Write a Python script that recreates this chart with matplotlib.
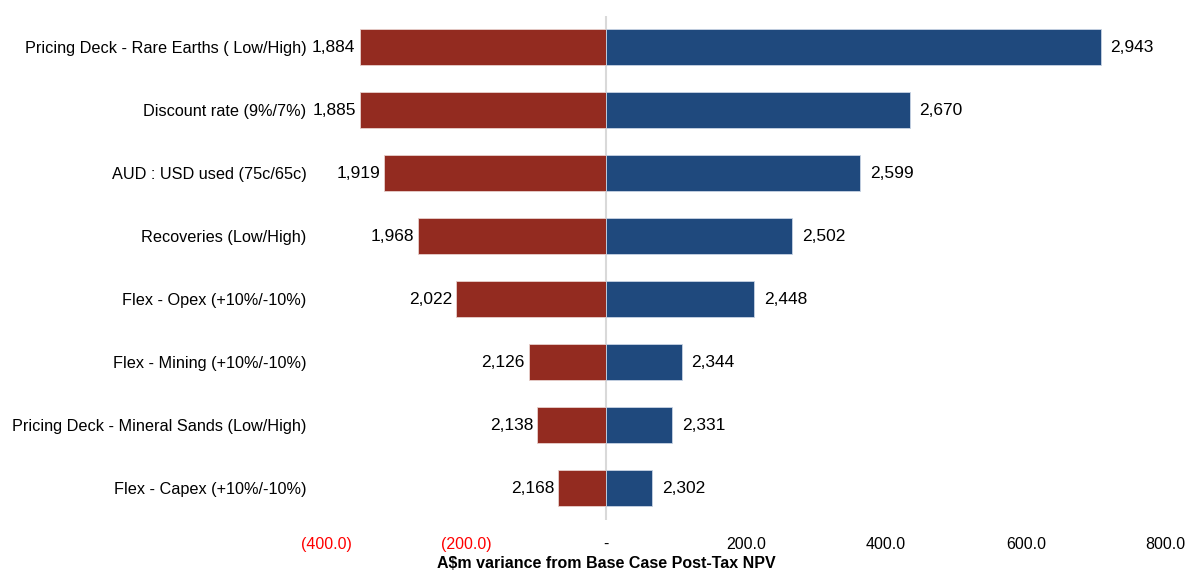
#!/usr/bin/env python3
"""Tornado chart: NPV sensitivity vs base case."""

import matplotlib
matplotlib.use("Agg")
import matplotlib.pyplot as plt
import numpy as np

plt.rcParams['font.family'] = ['Liberation Sans', 'DejaVu Sans']

# Data
categories = [
    "Pricing Deck - Rare Earths ( Low/High)",
    "Discount rate (9%/7%)",
    "AUD : USD used (75c/65c)",
    "Recoveries (Low/High)",
    "Flex - Opex (+10%/-10%)",
    "Flex - Mining (+10%/-10%)",
    "Pricing Deck - Mineral Sands (Low/High)",
    "Flex - Capex (+10%/-10%)",
]
low_npv = [1884, 1885, 1919, 1968, 2022, 2126, 2138, 2168]
high_npv = [2943, 2670, 2599, 2502, 2448, 2344, 2331, 2302]
base_npv = 2236
x_ticks = [-400, -200, 0, 200, 400, 600, 800]

RED = "#932B20"
BLUE = "#1F497D"


def tick_label(v):
    if v == 0:
        return "-"
    if v < 0:
        return f"({abs(v):.1f})"
    return f"{v:.1f}"


fig = plt.figure(figsize=(11.92, 5.77), dpi=100)
ax = fig.add_axes([0.2735, 0.0988, 0.7045, 0.8742])

y = np.arange(len(categories))
low_var = np.array(low_npv) - base_npv
high_var = np.array(high_npv) - base_npv

ax.barh(y, low_var, height=0.57, color=RED, edgecolor="#e8d0cc", linewidth=0.6)
ax.barh(y, high_var, height=0.57, color=BLUE, edgecolor="#c8d4e4", linewidth=0.6)
ax.axvline(0, color="#d9d9d9", linewidth=1.5, zorder=0)

for yi, lv, hv, lo, hi in zip(y, low_var, high_var, low_npv, high_npv):
    ax.annotate(f"{lo:,}", (lv, yi), xytext=(-3, 0), textcoords="offset points",
                ha="right", va="center", fontsize=12.5)
    ax.annotate(f"{hi:,}", (hv, yi), xytext=(7, 0), textcoords="offset points",
                ha="left", va="center", fontsize=12.5)

ax.set_xlim(-400, 800)
ax.set_ylim(len(categories) - 0.5, -0.5)
ax.set_yticks(y)
ax.set_yticklabels(categories, fontsize=11.7)
ax.set_xticks(x_ticks)
ax.set_xticklabels([tick_label(v) for v in x_ticks], fontsize=11.5)
for lbl, v in zip(ax.get_xticklabels(), x_ticks):
    if v < 0:
        lbl.set_color("#FF0000")
ax.tick_params(axis="both", length=0)
ax.tick_params(axis="y", pad=14)
ax.tick_params(axis="x", pad=12)
ax.set_xlabel("A$m variance from Base Case Post-Tax NPV", fontsize=11.5,
              fontweight="bold", labelpad=2)
# label sits centred under the zero line, not the axes centre
ax.xaxis.set_label_coords((0 + 400) / 1200, -0.072)
for s in ax.spines.values():
    s.set_visible(False)

fig.savefig("out.png", dpi=100)
